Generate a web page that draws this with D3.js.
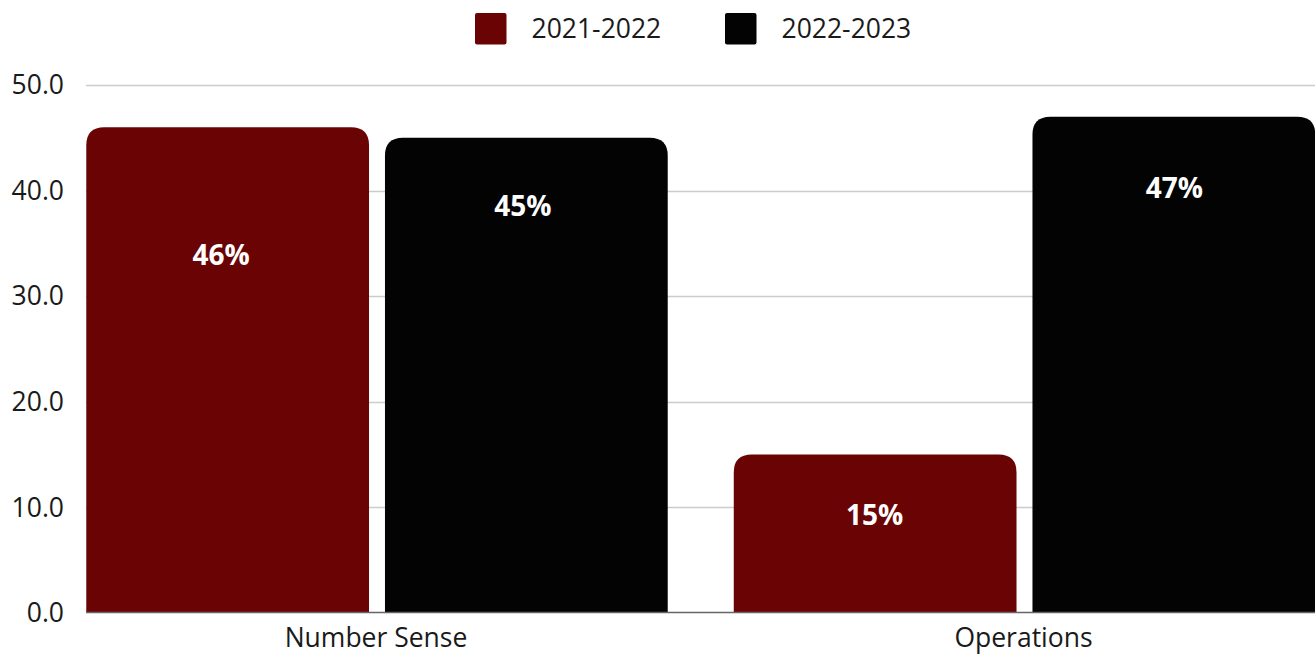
<!DOCTYPE html>
<html>
<head>
<meta charset="utf-8">
<script src="https://cdn.jsdelivr.net/npm/d3@7"></script>
<style>
  html, body { margin: 0; padding: 0; background: #fff; }
  svg { display: block; font-family: "Open Sans", sans-serif; }
</style>
</head>
<body>
<svg id="chart" width="1315" height="654"></svg>
<script>
// Data
const categories = ["Number Sense", "Operations"];
const seriesNames = ["2021-2022", "2022-2023"];
const values2122 = [46, 15];
const values2223 = [45, 47];
const yTicks = [0, 10, 20, 30, 40, 50];
const colors = ["#6a0404", "#030303"];
// placement (px) of each value label relative to its bar's top centre, per series then category
const labelShift = [[[-6.5, 128], [-0.5, 60.5]], [[-3.5, 68.5], [0.5, 72]]];

const W = 1315, H = 654;
const svg = d3.select("#chart");

const x = d3.scaleBand().domain(categories).range([53.25, 1348.25])
  .paddingInner(0.102).paddingOuter(0.051);
const xs = d3.scaleBand().domain(seriesNames).range([0, x.bandwidth()])
  .paddingInner(0.0534).paddingOuter(0);
const y = d3.scaleLinear().domain([0, 50]).range([613, 85]);

const plotLeft = 86, plotRight = W;

// gridlines
svg.append("g").selectAll("line").data(yTicks.filter(d => d > 0)).join("line")
  .attr("x1", plotLeft).attr("x2", plotRight)
  .attr("y1", d => Math.round(y(d)) + 0.5).attr("y2", d => Math.round(y(d)) + 0.5)
  .attr("stroke", "#cccccc").attr("stroke-width", 1.3);

// y tick labels
svg.append("g").selectAll("text").data(yTicks).join("text")
  .attr("x", 64).attr("y", d => y(d))
  .attr("dy", "0.35em").attr("text-anchor", "end")
  .attr("font-size", 26.5).attr("fill", "#1a1a1a")
  .text(d => d3.format(".1f")(d));

// bars with rounded tops
function topRounded(x0, y0, w, h, r) {
  r = Math.min(r, w / 2, h);
  return `M${x0},${y0 + h}V${y0 + r}Q${x0},${y0} ${x0 + r},${y0}H${x0 + w - r}Q${x0 + w},${y0} ${x0 + w},${y0 + r}V${y0 + h}Z`;
}

const series = [values2122, values2223];
const rows = [];
series.forEach((vals, si) => vals.forEach((v, ci) => rows.push({ si, ci, v })));

const bars = svg.append("g");
bars.selectAll("path").data(rows).join("path")
  .attr("d", d => {
    const bx = x(categories[d.ci]) + xs(seriesNames[d.si]);
    const by = y(d.v);
    return topRounded(bx, by, xs.bandwidth(), y(0) - by, 18);
  })
  .attr("fill", d => colors[d.si]);

// value labels
bars.selectAll("text").data(rows).join("text")
  .attr("x", d => x(categories[d.ci]) + xs(seriesNames[d.si]) + xs.bandwidth() / 2 + labelShift[d.si][d.ci][0])
  .attr("y", d => y(d.v) + labelShift[d.si][d.ci][1])
  .attr("dy", "0.35em").attr("text-anchor", "middle")
  .attr("font-size", 28).attr("font-weight", 700).attr("fill", "#ffffff")
  .text(d => d.v + "%");

// baseline
svg.append("line")
  .attr("x1", plotLeft).attr("x2", plotRight)
  .attr("y1", y(0) - 0.5).attr("y2", y(0) - 0.5)
  .attr("stroke", "#666666").attr("stroke-width", 1.5);

// category labels
svg.append("g").selectAll("text").data(categories).join("text")
  .attr("x", d => x(d) + x.bandwidth() / 2 - 1)
  .attr("y", 638).attr("dy", "0.35em").attr("text-anchor", "middle")
  .attr("font-size", 26.5).attr("fill", "#1a1a1a")
  .text(d => d);

// legend
const legendX = [475, 725];
const lg = svg.append("g").selectAll("g").data(seriesNames).join("g")
  .attr("transform", (d, i) => `translate(${legendX[i]},13)`);
lg.append("rect").attr("width", 31.5).attr("height", 31.5).attr("rx", 2)
  .attr("fill", (d, i) => colors[i]);
lg.append("text").attr("x", 56.5).attr("y", 16).attr("dy", "0.35em")
  .attr("font-size", 26.5).attr("fill", "#1a1a1a").text(d => d);
</script>
</body>
</html>
